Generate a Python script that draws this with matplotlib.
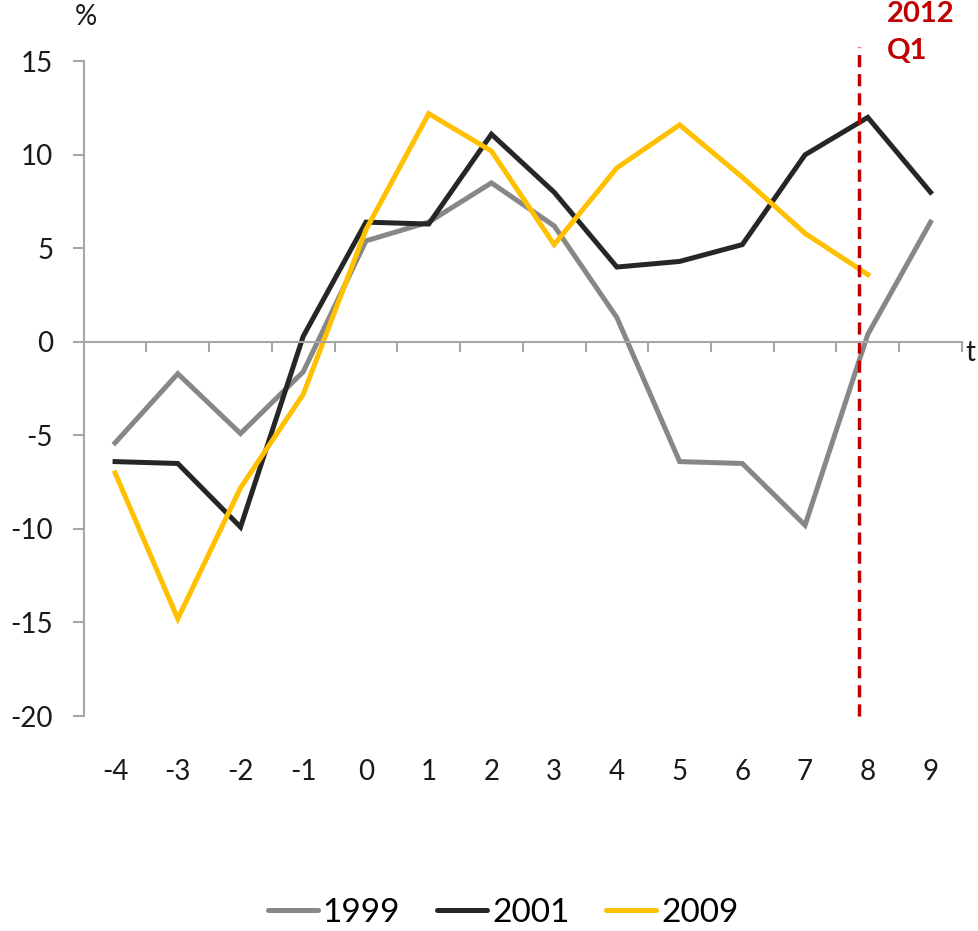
import matplotlib.pyplot as plt
from matplotlib.lines import Line2D

plt.rcParams['font.family'] = ['Lato', 'DejaVu Sans']
plt.rcParams['axes.unicode_minus'] = False

periods = [-4, -3, -2, -1, 0, 1, 2, 3, 4, 5, 6, 7, 8, 9]
s1999 = [-5.4, -1.7, -4.9, -1.6, 5.4, 6.4, 8.5, 6.2, 1.3, -6.4, -6.5, -9.8, 0.4, 6.4]
s2001 = [-6.4, -6.5, -9.9, 0.3, 6.4, 6.3, 11.1, 8.0, 4.0, 4.3, 5.2, 10.0, 12.0, 8.0]
s2009 = [-7.0, -14.8, -7.8, -2.8, 6.0, 12.2, 10.2, 5.2, 9.3, 11.6, 8.8, 5.8, 3.6]
labels = ['1999', '2001', '2009']
colors = ['#878787', '#262626', '#FFC000']
yticks = [-20, -15, -10, -5, 0, 5, 10, 15]
marker_pos = 7.86  # 2012 Q1
axis_grey = '#A6A6A6'

fig = plt.figure(figsize=(9.79, 9.31), dpi=100)
ax = fig.add_axes([0.0855, 0.2309, 0.8970, 0.7033])

for vals, col, lab in zip([s1999, s2001, s2009], colors, labels):
    ax.plot(periods[:len(vals)], vals, color=col, lw=3.6, label=lab,
            solid_joinstyle='miter')

ax.set_xlim(-4.5, 9.5)
ax.set_ylim(-20, 15)

# axis styling
for side in ['top', 'right']:
    ax.spines[side].set_visible(False)
ax.spines['left'].set_color(axis_grey)
ax.spines['left'].set_linewidth(1.5)
ax.spines['bottom'].set_position(('data', 0))
ax.spines['bottom'].set_color(axis_grey)
ax.spines['bottom'].set_linewidth(1.5)

ax.set_yticks(yticks)
ax.tick_params(axis='y', direction='out', length=8, width=1.5, color=axis_grey,
               labelsize=20, pad=14, labelcolor='#1a1a1a')

bounds = [p + 0.5 for p in periods[:-1]] + [periods[-1] + 0.5]
ax.set_xticks(bounds)
ax.set_xticklabels([])
ax.tick_params(axis='x', direction='out', length=7, width=1.5, color=axis_grey)

secax = ax.secondary_xaxis(0.0)
secax.set_xticks(periods)
secax.set_xticklabels([str(p) for p in periods])
secax.tick_params(length=0, labelsize=20, pad=31, labelcolor='#1a1a1a')
secax.spines['bottom'].set_visible(False)

# 2012 Q1 marker
ax.plot([marker_pos, marker_pos], [-20, 15.75], color='#C00000', lw=2.5,
        ls=(0, (3.5, 2)), clip_on=False)
ax.text(8.3, 18.2, '2012\nQ1', color='#C00000', fontsize=21, fontweight='bold',
        va='top', ha='left', linespacing=1.5)

ax.text(-4.46, 17.35, '%', fontsize=20, ha='center', va='center', color='#1a1a1a')
ax.text(9.63, -0.6, 't', fontsize=20, ha='center', va='center', color='#1a1a1a',
        clip_on=False)

handles = [Line2D([], [], color=c, lw=3.6, solid_capstyle='round') for c in colors]
fig.legend(handles, labels, loc='center', bbox_to_anchor=(503 / 979, 1 - 913 / 931),
           ncol=3, frameon=False, fontsize=24, handlelength=1.5, handletextpad=0.15,
           columnspacing=1.1)

fig.savefig('out.png', dpi=100)
